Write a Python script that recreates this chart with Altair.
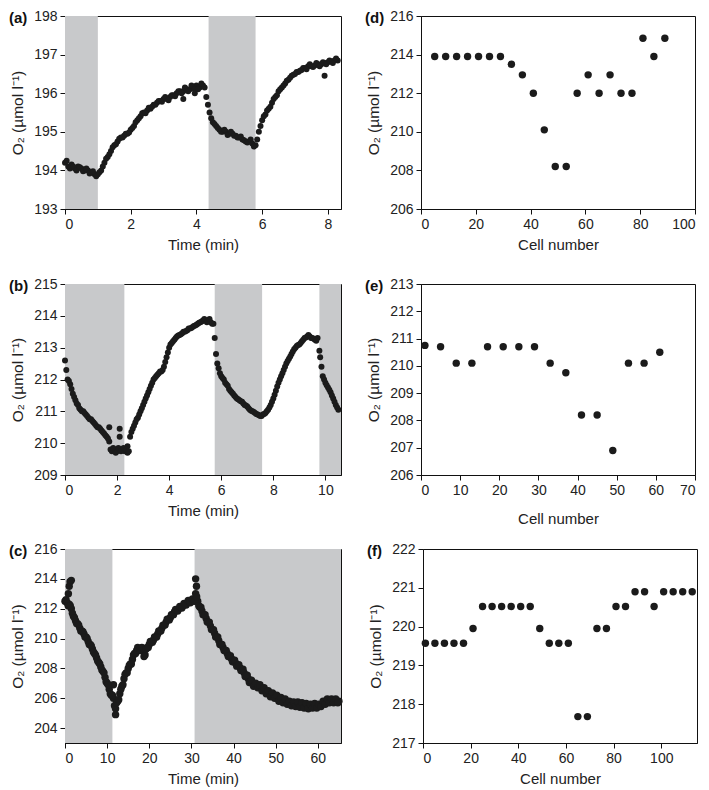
import altair as alt
import pandas as pd

# ---------------- data ----------------
a_t = [0.0,0.1,0.2,0.3,0.4,0.5,0.6,0.7,0.8,0.9,1.0,1.1,1.2,1.3,1.4,1.5,1.6,1.7,1.8,1.9,
       2.0,2.1,2.2,2.3,2.4,2.5,2.6,2.7,2.8,2.9,3.0,3.1,3.2,3.3,3.4,3.5,3.6,3.7,3.8,3.9,
       4.0,4.1,4.2,4.3,4.4,4.5,4.6,4.7,4.8,4.9,5.0,5.1,5.2,5.3,5.4,5.5,5.6,5.7,5.8,5.9,
       6.0,6.1,6.2,6.3,6.4,6.5,6.6,6.7,6.8,6.9,7.0,7.1,7.2,7.3,7.4,7.5,7.6,7.7,7.8,7.9,
       8.0,8.1,8.2,8.3,7.9,3.6,3.95,
       0.05,0.15,0.25,0.35,0.45,0.55,0.65,0.75,0.85,0.95,1.05,1.15,1.25,1.35,1.45,1.55,1.65,1.75,1.85,1.95,
       2.05,2.15,2.25,2.35,2.45,2.55,2.65,2.75,2.85,2.95,3.05,3.15,3.25,3.35,3.45,3.55,3.65,3.75,3.85,3.95,
       4.05,4.15,4.25,4.35,4.45,4.55,4.65,4.75,4.85,4.95,5.05,5.15,5.25,5.35,5.45,5.55,5.65,5.75,5.85,5.95,
       6.05,6.15,6.25,6.35,6.45,6.55,6.65,6.75,6.85,6.95,7.05,7.15,7.25,7.35,7.45,7.55,7.65,7.75,7.85,7.95,
       8.05,8.15,8.25]
a_o = [194.2,194.1,194.15,194.05,194.1,194.05,194.0,194.0,193.95,193.9,193.9,194.0,194.2,194.35,194.5,194.65,194.75,194.85,194.9,194.95,
       195.05,195.15,195.3,195.4,195.5,195.55,195.6,195.7,195.75,195.8,195.85,195.85,195.9,195.95,196.0,196.05,196.05,196.1,196.1,196.15,
       196.2,196.15,196.2,195.9,195.5,195.25,195.15,195.05,195.0,195.0,194.95,194.95,194.9,194.85,194.8,194.75,194.75,194.7,194.65,195.0,
       195.3,195.45,195.6,195.75,195.9,196.05,196.15,196.25,196.35,196.45,196.5,196.55,196.6,196.65,196.7,196.7,196.72,196.75,196.75,196.78,
       196.8,196.82,196.85,196.85,196.45,195.85,196.0,
       194.25,194.05,194.1,194.0,194.08,193.98,194.05,193.92,193.98,193.85,193.95,194.1,194.3,194.42,194.6,194.68,194.82,194.85,194.95,194.98,
       195.1,195.25,195.35,195.48,195.48,195.62,195.65,195.7,195.8,195.78,195.9,195.82,195.95,195.92,196.05,196.0,196.15,196.05,196.2,196.1,
       196.1,196.25,196.15,195.7,195.35,195.2,195.1,195.0,195.05,194.92,195.0,194.9,194.85,194.88,194.78,194.72,194.8,194.62,194.8,195.15,
       195.4,195.55,195.65,195.85,195.95,196.1,196.2,196.32,196.4,196.48,196.55,196.58,196.65,196.62,196.75,196.68,196.78,196.7,196.8,196.75,
       196.85,196.78,196.9]
a_s0 = [0.0, 4.37]
a_s1 = [1.0, 5.8]

b_t = [0.0,0.1,0.2,0.3,0.4,0.5,0.6,0.7,0.8,0.9,1.0,1.1,1.2,1.3,1.4,1.5,1.6,1.7,1.8,1.9,
       2.0,2.1,2.2,2.3,2.4,2.5,2.6,2.7,2.8,2.9,3.0,3.1,3.2,3.3,3.4,3.5,3.6,3.7,3.8,3.9,
       4.0,4.1,4.2,4.3,4.4,4.5,4.6,4.7,4.8,4.9,5.0,5.1,5.2,5.3,5.4,5.5,5.6,5.7,5.8,5.9,
       6.0,6.1,6.2,6.3,6.4,6.5,6.6,6.7,6.8,6.9,7.0,7.1,7.2,7.3,7.4,7.5,7.6,7.7,7.8,7.9,
       8.0,8.1,8.2,8.3,8.4,8.5,8.6,8.7,8.8,8.9,9.0,9.1,9.2,9.3,9.4,9.5,9.6,9.7,9.8,9.9,
       10.0,10.1,10.2,10.3,10.4,10.5,1.7,2.1,2.1,5.75,9.77,2.4,
       0.05,0.15,0.25,0.35,0.45,0.55,0.65,0.75,0.85,0.95,1.05,1.15,1.25,1.35,1.45,1.55,1.65,1.75,1.85,1.95,
       2.05,2.15,2.25,2.35,2.45,2.55,2.65,2.75,2.85,2.95,3.05,3.15,3.25,3.35,3.45,3.55,3.65,3.75,3.85,3.95,
       4.05,4.15,4.25,4.35,4.45,4.55,4.65,4.75,4.85,4.95,5.05,5.15,5.25,5.35,5.45,5.55,5.65,5.85,5.95,
       6.05,6.15,6.25,6.35,6.45,6.55,6.65,6.75,6.85,6.95,7.05,7.15,7.25,7.35,7.45,7.55,7.65,7.75,7.85,7.95,
       8.05,8.15,8.25,8.35,8.45,8.55,8.65,8.75,8.85,8.95,9.05,9.15,9.25,9.35,9.45,9.55,9.65,9.85,9.95,
       10.05,10.15,10.25,10.35,10.45]
b_o = [212.6,212.0,211.85,211.55,211.35,211.2,211.05,211.0,210.9,210.8,210.75,210.65,210.55,210.5,210.4,210.3,210.2,210.05,209.75,209.8,
       209.75,209.8,209.8,209.75,209.7,210.2,210.45,210.65,210.8,211.0,211.2,211.4,211.6,211.8,212.0,212.1,212.2,212.25,212.4,212.7,
       213.0,213.15,213.25,213.35,213.4,213.45,213.5,213.55,213.6,213.65,213.7,213.75,213.8,213.85,213.85,213.85,213.8,213.75,212.8,212.35,
       212.1,212.0,211.85,211.7,211.6,211.5,211.4,211.35,211.3,211.2,211.15,211.05,211.0,210.95,210.9,210.85,210.9,210.95,211.05,211.2,
       211.4,211.65,211.9,212.1,212.3,212.5,212.65,212.8,212.95,213.05,213.1,213.2,213.3,213.35,213.35,213.3,213.25,213.3,212.7,212.1,
       211.9,211.75,211.6,211.4,211.2,211.05,210.5,210.2,210.45,213.3,212.9,209.9,
       212.3,211.95,211.7,211.45,211.25,211.1,211.0,210.95,210.85,210.75,210.7,210.6,210.5,210.45,210.35,210.25,210.15,209.8,209.85,209.7,
       209.85,209.75,209.85,209.8,209.75,210.35,210.55,210.75,210.9,211.1,211.3,211.5,211.7,211.9,212.05,212.15,212.25,212.3,212.55,212.85,
       213.1,213.2,213.3,213.38,213.42,213.5,213.52,213.6,213.62,213.68,213.72,213.78,213.82,213.9,213.8,213.9,213.75,212.5,212.2,
       212.05,211.9,211.8,211.65,211.55,211.45,211.38,211.32,211.25,211.18,211.1,211.02,210.98,210.92,210.88,210.85,210.92,211.0,211.12,211.3,
       211.52,211.78,212.0,212.2,212.4,212.58,212.72,212.88,213.0,213.08,213.15,213.25,213.32,213.4,213.3,213.28,213.22,212.4,212.0,
       211.82,211.68,211.5,211.3,211.12]
b_s0 = [0.0, 5.75, 9.77]
b_s1 = [2.28, 7.57, 10.6]

c_t = [0.0,0.5,1.0,1.5,2.0,2.5,3.0,3.5,4.0,4.5,5.0,5.5,6.0,6.5,7.0,7.5,8.0,8.5,9.0,9.5,
       10.0,10.5,11.0,11.5,12.0,12.5,13.0,13.5,14.0,14.5,15.0,15.5,16.0,16.5,17.0,17.5,18.0,18.5,19.0,19.5,
       20.0,20.5,21.0,21.5,22.0,22.5,23.0,23.5,24.0,24.5,25.0,25.5,26.0,26.5,27.0,27.5,28.0,28.5,29.0,29.5,
       30.0,30.5,31.0,31.5,32.0,32.5,33.0,33.5,34.0,34.5,35.0,35.5,36.0,36.5,37.0,37.5,38.0,38.5,39.0,39.5,
       40.0,40.5,41.0,41.5,42.0,42.5,43.0,43.5,44.0,44.5,45.0,45.5,46.0,46.5,47.0,47.5,48.0,48.5,49.0,49.5,
       50.0,50.5,51.0,51.5,52.0,52.5,53.0,53.5,54.0,54.5,55.0,55.5,56.0,56.5,57.0,57.5,58.0,58.5,59.0,59.5,
       60.0,60.5,61.0,61.5,62.0,62.5,63.0,63.5,64.0,64.5,65.0,
       0.8,1.0,1.2,1.5,11.5,12.0,31.0,31.2,
       0.25,0.75,1.25,1.75,2.25,2.75,3.25,3.75,4.25,4.75,5.25,5.75,6.25,6.75,7.25,7.75,8.25,8.75,9.25,9.75,
       10.25,10.75,11.25,11.75,12.25,12.75,13.25,13.75,14.25,14.75,15.25,15.75,16.25,16.75,17.25,17.75,18.25,18.75,19.25,19.75,
       20.25,20.75,21.25,21.75,22.25,22.75,23.25,23.75,24.25,24.75,25.25,25.75,26.25,26.75,27.25,27.75,28.25,28.75,29.25,29.75,
       30.25,30.75,31.25,31.75,32.25,32.75,33.25,33.75,34.25,34.75,35.25,35.75,36.25,36.75,37.25,37.75,38.25,38.75,39.25,39.75,
       40.25,40.75,41.25,41.75,42.25,42.75,43.25,43.75,44.25,44.75,45.25,45.75,46.25,46.75,47.25,47.75,48.25,48.75,49.25,49.75,
       50.25,50.75,51.25,51.75,52.25,52.75,53.25,53.75,54.25,54.75,55.25,55.75,56.25,56.75,57.25,57.75,58.25,58.75,59.25,59.75,
       60.25,60.75,61.25,61.75,62.25,62.75,63.25,63.75,64.25,64.75]
c_o = [212.5,212.4,212.3,212.0,211.5,211.2,211.0,210.7,210.5,210.3,210.1,209.8,209.6,209.3,209.0,208.7,208.4,208.1,207.8,207.4,
       207.0,206.6,206.2,206.0,205.3,205.8,206.3,206.8,207.3,207.7,208.0,208.3,208.6,209.0,209.2,209.3,209.3,209.2,208.9,209.4,
       209.6,209.8,209.9,210.1,210.3,210.5,210.7,210.9,211.1,211.3,211.4,211.6,211.8,211.9,212.0,212.1,212.2,212.3,212.4,212.45,
       212.5,212.6,213.0,212.5,212.1,211.85,211.6,211.35,211.1,210.85,210.6,210.35,210.1,209.85,209.6,209.4,209.2,209.0,208.8,208.65,
       208.5,208.35,208.2,208.05,207.9,207.7,207.5,207.3,207.1,207.0,206.9,206.85,206.8,206.7,206.6,206.5,206.4,206.3,206.2,206.15,
       206.1,206.0,205.9,205.85,205.8,205.75,205.7,205.65,205.6,205.6,205.6,205.6,205.6,205.55,205.5,205.5,205.45,205.5,205.5,205.5,
       205.5,205.5,205.6,205.7,205.8,205.8,205.8,205.85,205.8,205.8,205.8,
       213.0,213.5,213.8,213.9,206.9,204.9,214.0,213.5,
       212.6,212.2,212.2,211.7,211.4,211.0,210.9,210.5,210.45,210.1,210.0,209.6,209.5,209.1,208.9,208.5,208.3,207.9,207.7,207.1,
       206.9,206.3,206.2,205.5,205.7,205.9,206.6,206.9,207.6,207.7,208.2,208.3,208.9,209.0,209.4,209.2,209.4,208.8,209.3,209.4,
       209.8,209.75,210.1,210.1,210.5,210.5,210.9,210.9,211.3,211.25,211.6,211.6,211.95,211.85,212.15,212.05,212.35,212.25,212.55,212.4,
       212.65,212.5,212.8,212.2,212.1,211.6,211.6,211.1,211.1,210.6,210.6,210.1,210.1,209.6,209.6,209.2,209.2,208.8,208.85,208.45,
       208.55,208.15,208.25,207.85,207.95,207.45,207.55,207.05,207.2,206.8,207.0,206.7,206.9,206.5,206.7,206.3,206.5,206.1,206.35,206.0,
       206.2,205.8,206.05,205.7,205.95,205.6,205.8,205.5,205.75,205.45,205.75,205.4,205.7,205.35,205.65,205.3,205.6,205.35,205.65,205.35,
       205.6,205.45,205.8,205.6,205.95,205.7,205.95,205.7,205.95,205.7]
c_s0 = [0.0, 30.75]
c_s1 = [11.25, 65.5]

d_x = [5,9,13,17,21,25,29,33,37,41,45,49,53,57,61,65,69,73,77,81,85,89]
d_o = [213.9,213.9,213.9,213.9,213.9,213.9,213.9,213.5,212.95,212.0,210.1,208.2,208.2,212.0,212.95,212.0,212.95,212.0,212.0,214.85,213.9,214.85]

e_x = [1,5,9,13,17,21,25,29,33,37,41,45,49,53,57,61]
e_o = [210.75,210.7,210.1,210.1,210.7,210.7,210.7,210.7,210.1,209.75,208.2,208.2,206.9,210.1,210.1,210.5]

f_x = [1,5,9,13,17,21,25,29,33,37,41,45,49,53,57,61,65,69,73,77,81,85,89,93,97,101,105,109,113]
f_o = [219.57,219.57,219.57,219.57,219.57,219.95,220.52,220.52,220.52,220.52,220.52,220.52,219.95,219.57,219.57,219.57,
       217.68,217.68,219.95,219.95,220.52,220.52,220.9,220.9,220.52,220.9,220.9,220.9,220.9]

FONT = "Liberation Sans"
SHADE = "#c8c9cb"
DOT = "#1b1b1b"
YTITLE = "O\u2082 (\u00b5mol l\u207b\u00b9)"
LW, RW = 276, 274


def label_layer(lab):
    return alt.Chart(pd.DataFrame({"l": [lab]})).mark_text(
        font=FONT, fontSize=15, fontWeight="bold", align="left", baseline="alphabetic", color="#111"
    ).encode(x=alt.value(-56), y=alt.value(7), text="l:N")


def ts_panel(t, o, s0, s1, xdom, ydom, xticks, yticks, lab, h, size):
    xs = alt.Scale(domain=xdom, nice=False, zero=False)
    ys = alt.Scale(domain=ydom, nice=False, zero=False)
    xax = alt.Axis(values=xticks, title="Time (min)")
    yax = alt.Axis(values=yticks, title=YTITLE, titlePadding=8, titleFontSize=15.5)
    shade = alt.Chart(pd.DataFrame({"s0": s0, "s1": s1})).mark_rect(color=SHADE, clip=True).encode(
        x=alt.X("s0:Q", scale=xs, axis=xax), x2="s1:Q", y=alt.value(0), y2=alt.value(h))
    pts = alt.Chart(pd.DataFrame({"t": t, "o": o})).mark_circle(size=size, color=DOT, opacity=1).encode(
        x=alt.X("t:Q", scale=xs, axis=xax), y=alt.Y("o:Q", scale=ys, axis=yax))
    return alt.layer(shade, pts, label_layer(lab)).properties(width=LW, height=h)


def cell_panel(x, o, xdom, ydom, xticks, yticks, lab, h, tpad):
    xs = alt.Scale(domain=xdom, nice=False, zero=False)
    ys = alt.Scale(domain=ydom, nice=False, zero=False)
    pts = alt.Chart(pd.DataFrame({"x": x, "o": o})).mark_circle(size=55, color=DOT, opacity=1).encode(
        x=alt.X("x:Q", scale=xs, axis=alt.Axis(values=xticks, title="Cell number", titlePadding=tpad)),
        y=alt.Y("o:Q", scale=ys, axis=alt.Axis(values=yticks, title=YTITLE, titlePadding=8, titleFontSize=15.5)))
    return alt.layer(pts, label_layer(lab)).properties(width=RW, height=h)


pa = ts_panel(a_t, a_o, a_s0, a_s1, [0, 8.4], [193, 198], [0, 2, 4, 6, 8], [193, 194, 195, 196, 197, 198], "(a)", 193, 36)
pb = ts_panel(b_t, b_o, b_s0, b_s1, [0, 10.6], [209, 215], [0, 2, 4, 6, 8, 10], [209, 210, 211, 212, 213, 214, 215], "(b)", 191, 36)
pc = ts_panel(c_t, c_o, c_s0, c_s1, [0, 65.5], [203, 216], [0, 10, 20, 30, 40, 50, 60], [204, 206, 208, 210, 212, 214, 216], "(c)", 194, 55)
pd_ = cell_panel(d_x, d_o, [0, 100], [206, 216], [0, 20, 40, 60, 80, 100], [206, 208, 210, 212, 214, 216], "(d)", 193, 6)
pe = cell_panel(e_x, e_o, [0, 70], [206, 213], [0, 10, 20, 30, 40, 50, 60, 70], [206, 207, 208, 209, 210, 211, 212, 213], "(e)", 191, 14)
pf = cell_panel(f_x, f_o, [0, 115], [217, 222], [0, 20, 40, 60, 80, 100], [217, 218, 219, 220, 221, 222], "(f)", 194, 6)

row1 = alt.hconcat(pa, pd_, spacing=22)
row2 = alt.hconcat(pb, pe, spacing=22)
row3 = alt.hconcat(pc, pf, spacing=22)

chart = alt.vconcat(
    alt.vconcat(row1, row2, spacing=23),
    row3,
    spacing=14,
).configure_view(stroke="#111", strokeWidth=1).configure_axis(
    labelFont=FONT, titleFont=FONT, labelFontSize=14, titleFontSize=15, titleFontWeight="normal",
    labelColor="#222", titleColor="#222", grid=False, tickColor="#111", domainColor="#111",
    tickSize=5, labelPadding=3, titlePadding=6
).properties(padding=0)

chart.save("out.html", embed_options={"renderer": "svg", "actions": False})
